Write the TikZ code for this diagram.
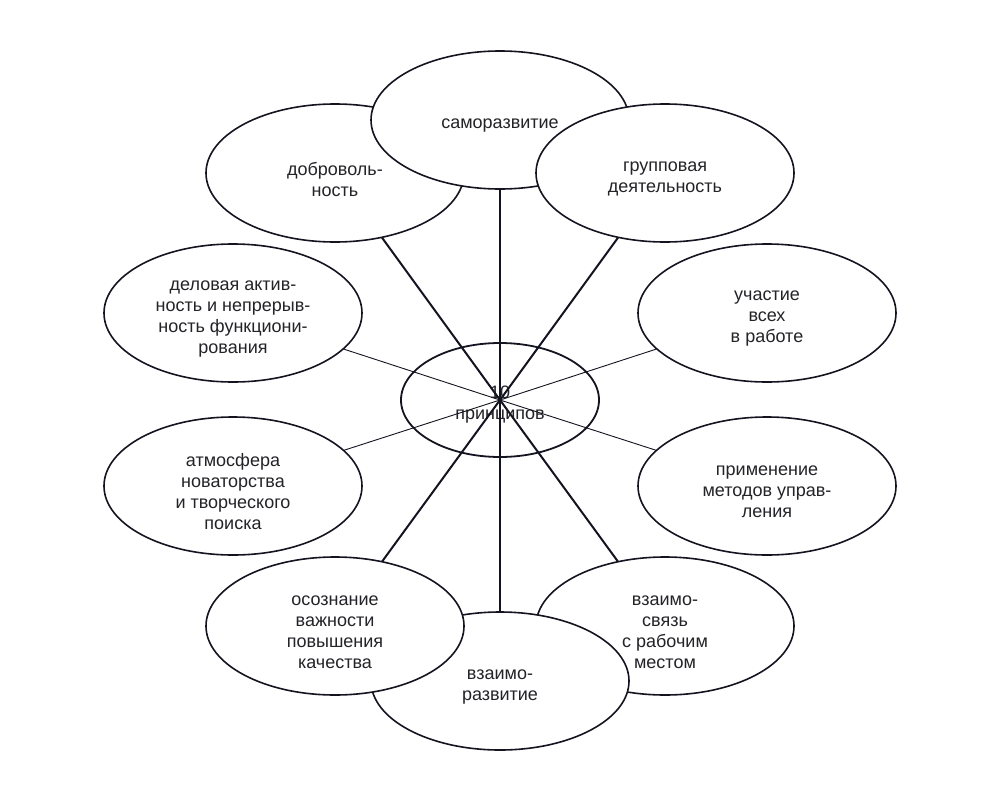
\documentclass[tikz,border=0pt]{standalone}
\usepackage{fontspec}
\setmainfont{Liberation Sans}
\usetikzlibrary{shapes.geometric}
\pgfdeclarelayer{bottom}
\pgfdeclarelayer{links}
\pgfsetlayers{bottom,links,main}
\definecolor{ink}{RGB}{20,20,32}
\definecolor{txt}{RGB}{35,35,40}
\tikzset{
  lbl/.style={align=center,font=\fontsize{18}{21}\selectfont,text=txt,inner sep=0pt,yshift=-6pt},
  outer/.style={ellipse,draw=ink,line width=1.6pt,fill=white,minimum width=258pt,minimum height=138pt,inner sep=0pt},
  hub/.style={ellipse,draw=ink,line width=1.8pt,fill=white,minimum width=198pt,minimum height=114pt,inner sep=0pt},
  thick link/.style={draw=ink,line width=2pt},
  thin link/.style={draw=ink,line width=0.9pt}
}
\begin{document}
\begin{tikzpicture}[x=1pt,y=-1pt]
\useasboundingbox (0,0) rectangle (1000,800);
% outer ellipses, in stacking order
\node[outer,label={[lbl]center:{доброволь-\\ность}}] (dob) at (335,173) {};
\node[outer,label={[lbl]center:{саморазвитие}}] (sam) at (500,120) {};
\node[outer,label={[lbl]center:{групповая\\деятельность}}] (grp) at (665,173) {};
\node[outer,label={[lbl]center:{деловая актив-\\ность и непрерыв-\\ность функциони-\\рования}}] (del) at (233,313) {};
\node[outer,label={[lbl]center:{участие\\всех\\в работе}}] (uch) at (767,313) {};
\node[outer,label={[lbl]center:{атмосфера\\новаторства\\и творческого\\поиска}}] (atm) at (233,486) {};
\node[outer,label={[lbl]center:{применение\\методов управ-\\ления}}] (pri) at (767,486) {};
\node[outer,label={[lbl]center:{взаимо-\\связь\\с рабочим\\местом}}] (vzs) at (665,626) {};
\node[outer,label={[lbl]center:{взаимо-\\развитие}}] (vzr) at (500,681) {};
\node[outer,label={[lbl]center:{осознание\\важности\\повышения\\качества}}] (oso) at (335,626) {};
\begin{pgfonlayer}{bottom}
\node[hub,label={[lbl,yshift=1pt]center:{10\\принципов}}] (c) at (500,400) {};
\end{pgfonlayer}
\begin{pgfonlayer}{links}
\draw[thick link] (c.center) -- (sam.center);
\draw[thick link] (c.center) -- (vzr.center);
\draw[thick link] (c.center) -- (dob.center);
\draw[thick link] (c.center) -- (grp.center);
\draw[thick link] (c.center) -- (oso.center);
\draw[thick link] (c.center) -- (vzs.center);
\draw[thin link] (c.center) -- (del.center);
\draw[thin link] (c.center) -- (uch.center);
\draw[thin link] (c.center) -- (atm.center);
\draw[thin link] (c.center) -- (pri.center);
\end{pgfonlayer}
\end{tikzpicture}
\end{document}
